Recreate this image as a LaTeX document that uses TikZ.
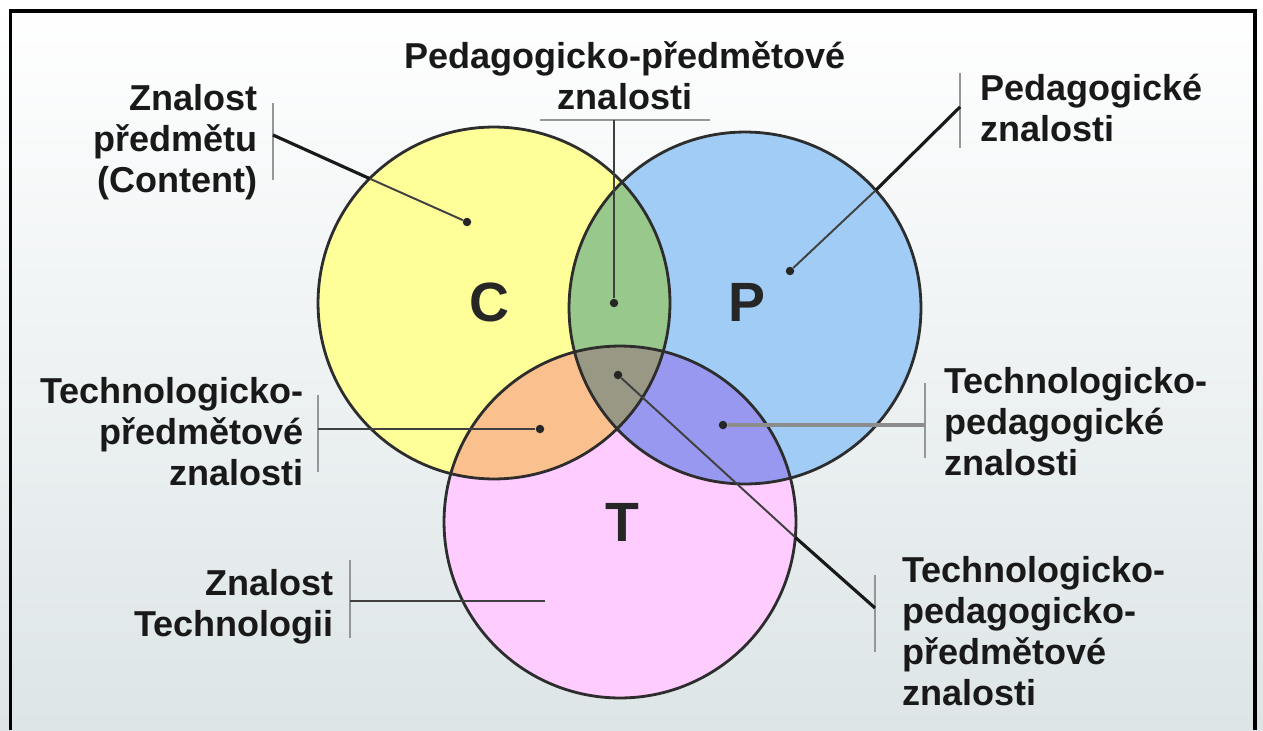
\documentclass[tikz,border=0pt]{standalone}
\usepackage{fontspec}
\setmainfont{Liberation Sans}
\usepackage{xcolor}
\usetikzlibrary{calc}
\definecolor{circyellow}{RGB}{255,255,153}
\definecolor{circblue}{RGB}{160,204,245}
\definecolor{circpink}{RGB}{255,204,255}
\definecolor{ovgreen}{RGB}{152,200,140}
\definecolor{ovorange}{RGB}{250,192,142}
\definecolor{ovviolet}{RGB}{152,152,240}
\definecolor{ovgray}{RGB}{152,152,132}
\definecolor{bgbottom}{RGB}{221,229,231}
\definecolor{ringgray}{RGB}{45,45,45}
\definecolor{bargray}{RGB}{150,150,150}
\newcommand{\vennrad}{3.52cm}
\tikzset{
    venn circle/.style={
        circle,
        minimum size=7.04cm,
        inner sep=0pt,
        outer sep=0pt
    },
    ring/.style={
        draw=ringgray,
        line width=1.6pt
    },
    spot/.style={
        circle,
        fill=black!85,
        minimum size=0.17cm,
        inner sep=0pt
    },
    label bar/.style={
        draw=bargray,
        line width=1.1pt
    },
    lead thin/.style={
        draw=black!75,
        line width=1.1pt
    },
    lead thick/.style={
        draw=black!90,
        line width=1.8pt
    },
    lead gray/.style={
        draw=black!45,
        line width=2pt
    },
    caption/.style={
        font=\bfseries\fontsize{20.5}{23.3}\selectfont,
        text=black!90,
        inner sep=0pt
    },
    letter/.style={
        font=\bfseries\fontsize{31.5}{36}\selectfont,
        text=black!85
    }
}

\begin{document}
\begin{tikzpicture}[x=0.02cm, y=-0.02cm]

% Background and frame
\useasboundingbox (0,0) rectangle (1263,730);
\shade[top color=white, bottom color=bgbottom] (0,0) rectangle (1263,730);
\draw[line width=2pt] (10.5,730) -- (10.5,11) -- (1255,11) -- (1255,730);

% Circles
\node[venn circle, fill=circyellow] (C) at (494,303) {};
\node[venn circle, fill=circblue] (P) at (745,308) {};
\node[venn circle, fill=circpink] (T) at (620,522) {};

% Overlaps
\begin{scope}
    \clip (C.center) circle[radius=\vennrad];
    \fill[ovgreen] (P.center) circle[radius=\vennrad];
    \fill[ovorange] (T.center) circle[radius=\vennrad];
\end{scope}
\begin{scope}
    \clip (P.center) circle[radius=\vennrad];
    \fill[ovviolet] (T.center) circle[radius=\vennrad];
    \clip (C.center) circle[radius=\vennrad];
    \fill[ovgray] (T.center) circle[radius=\vennrad];
\end{scope}
\foreach \c in {C,P,T}
    \draw[ring] (\c.center) circle[radius=\vennrad];

% Letters
\node[letter] (lC) at (489,302) {C};
\node[letter] (lP) at (747,302) {P};
\node[letter] (lT) at (622,522) {T};

% Spots
\node[spot] (sC) at (467,222) {};
\node[spot] (sCP) at (614,303) {};
\node[spot] (sP) at (790,271) {};
\node[spot] (sCT) at (540,429) {};
\node[spot] (sPT) at (723,425) {};
\node[spot] (sCPT) at (618,375) {};
\coordinate (sT) at (545,601);

% Captions
\node[caption, align=right, anchor=north east] (tContent) at (258,84) {Znalost\\předmětu\\(Content)};
\node[caption, align=center, anchor=north] (tPedPred) at (625,41) {Pedagogicko-předmětové\\znalosti};
\node[caption, align=left, anchor=north west] (tPed) at (980,74) {Pedagogické\\znalosti};
\node[caption, align=right, anchor=north east] (tTechPred) at (304,377) {Technologicko-\\předmětové\\znalosti};
\node[caption, align=left, anchor=north west] (tTechPed) at (944,367) {Technologicko-\\pedagogické\\znalosti};
\node[caption, align=left, anchor=north west] (tAll) at (902,556) {Technologicko-\\pedagogicko-\\předmětové\\znalosti};
\node[caption, align=right, anchor=north east] (tTech) at (334,569) {Znalost\\Technologii};

% Label bars
\draw[label bar] (273,103) -- (273,180);
\draw[label bar] (540,120) -- (710,120);
\draw[label bar] (960,73) -- (960,148);
\draw[label bar] (318,395) -- (318,472);
\draw[label bar] (925,383) -- (925,458);
\draw[label bar] (875,575) -- (875,652);
\draw[label bar] (350,560) -- (350,638);

% Leader ends
\coordinate (eContent) at (273,135);
\coordinate (ePedPred) at (614,120);
\coordinate (ePed) at (960,107);
\coordinate (eTechPred) at (318,429);
\coordinate (eTechPed) at (925,425);
\coordinate (eAll) at (875,608);
\coordinate (eTech) at (350,601);

% Leaders
\draw[lead thin] (sC) -- (C.135);
\draw[lead thick] (C.135) -- (eContent);
\draw[lead thin] (sCP) -- (ePedPred);
\draw[lead thin] (sP) -- (P.42);
\draw[lead thick] (P.42) -- (ePed);
\draw[lead thin] (sCT) -- (eTechPred);
\draw[lead gray] (sPT) -- (eTechPed);
\draw[lead thin] (sCPT) -- (T.-5);
\draw[lead thick] (T.-5) -- (eAll);
\draw[lead thin] (sT) -- (eTech);

\end{tikzpicture}
\end{document}
